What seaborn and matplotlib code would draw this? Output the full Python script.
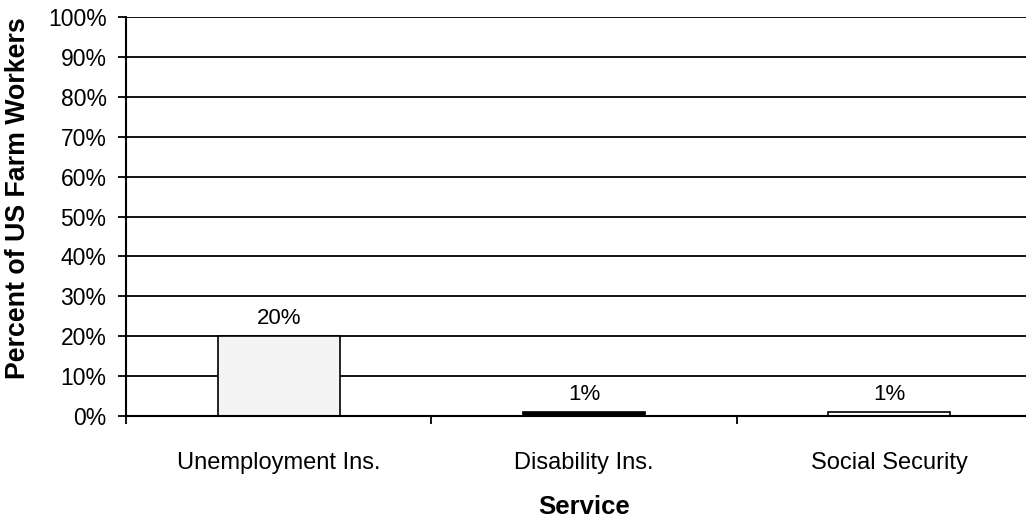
import matplotlib
matplotlib.use("Agg")
import matplotlib.pyplot as plt
import seaborn as sns
import pandas as pd
from matplotlib.ticker import FixedLocator

services = ["Unemployment Ins.", "Disability Ins.", "Social Security"]
percent_workers = [20, 1, 1]
bar_colors = ["#f4f4f4", "#000000", "#ffffff"]
y_ticks = list(range(0, 101, 10))

sns.set_theme(style="white")
plt.rcParams["font.family"] = ["Liberation Sans", "DejaVu Sans"]

df = pd.DataFrame({"Service": services, "Percent": percent_workers})

W, H = 1026, 518
fig = plt.figure(figsize=(W / 100, H / 100), dpi=100)
fig.patch.set_facecolor("white")
# axes deliberately run past the right edge of the figure
ax = fig.add_axes([126 / W, 102 / H, 916 / W, 399 / H])

sns.barplot(data=df, x="Service", y="Percent", hue="Service",
            palette=bar_colors, width=0.4, edgecolor="black",
            linewidth=1.2, legend=False, ax=ax, zorder=3)

ax.set_ylim(0, 100)
ax.set_xlim(-0.5, len(services) - 0.5)
ax.set_yticks(y_ticks)
ax.set_yticklabels([f"{v}%" for v in y_ticks], fontsize=16.5)
ax.yaxis.grid(True, color="black", linewidth=1.3, zorder=0)
ax.xaxis.grid(False)
ax.tick_params(axis="y", direction="out", length=6, width=1.3,
               color="black", left=True, pad=8, labelcolor="black")

# category labels centred, tick marks on category boundaries
ax.tick_params(axis="x", which="major", length=0, pad=26,
               labelsize=17, labelcolor="black")
ax.xaxis.set_minor_locator(FixedLocator([i - 0.5 for i in range(len(services) + 1)]))
ax.tick_params(axis="x", which="minor", direction="out", length=6,
               width=1.3, color="black", bottom=True)

for side in ["top", "right"]:
    ax.spines[side].set_visible(False)
for side in ["left", "bottom"]:
    ax.spines[side].set_visible(True)
    ax.spines[side].set_color("black")
    ax.spines[side].set_linewidth(1.5)
    ax.spines[side].set_zorder(4)

for container in ax.containers:
    ax.bar_label(container, labels=[f"{v:.0f}%" for v in container.datavalues],
                 padding=5, fontsize=16, color="black")

ax.set_xlabel("")
ax.set_ylabel("")
fig.text(584 / W, 11 / H, "Service", ha="center", va="center",
         fontsize=18.5, fontweight="bold", color="black")
fig.text(18 / W, 139 / H, "Percent of US Farm Workers", rotation=90,
         rotation_mode="anchor", ha="left", va="center",
         fontsize=19.3, fontweight="bold", color="black")

fig.savefig("out.png", dpi=100, facecolor="white")
